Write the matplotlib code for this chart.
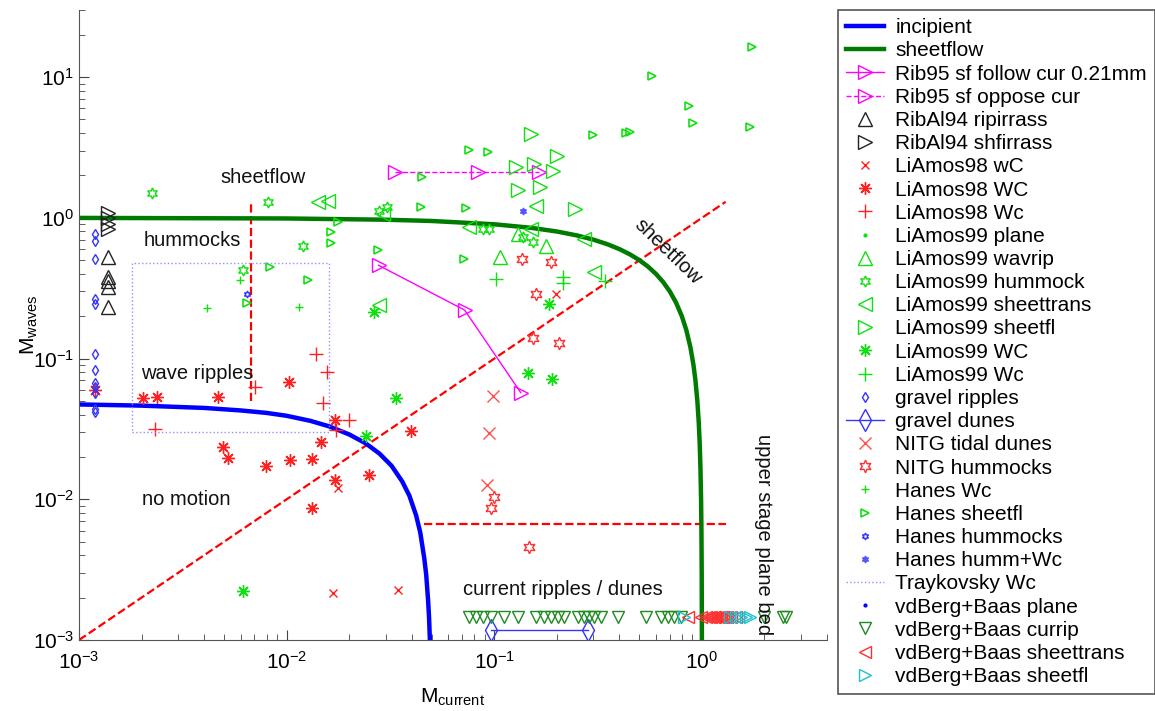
import matplotlib
matplotlib.use('Agg')
import matplotlib.pyplot as plt

plt.rcParams['font.family'] = ['Liberation Sans', 'DejaVu Sans']
plt.rcParams['mathtext.default'] = 'regular'

# boundary curves
incip_x = [0.001, 0.002, 0.004, 0.006, 0.008, 0.01, 0.013, 0.016, 0.02, 0.024, 0.028, 0.032,
           0.036, 0.039, 0.042, 0.044, 0.046, 0.047, 0.048, 0.0485, 0.049]
incip_y = [0.0472, 0.0463, 0.0446, 0.0428, 0.0411, 0.0392, 0.0361, 0.0330, 0.0289, 0.0250,
           0.0211, 0.0173, 0.0134, 0.0106, 0.0077, 0.0058, 0.0038, 0.0029, 0.0019, 0.00144, 0.00096]
sheet_x = [0.001, 0.01, 0.03, 0.05, 0.1, 0.15, 0.2, 0.25, 0.3, 0.35, 0.4, 0.45, 0.5, 0.55, 0.6,
           0.65, 0.7, 0.75, 0.8, 0.84, 0.88, 0.91, 0.93, 0.95, 0.965, 0.975, 0.983, 0.99, 0.994,
           0.997, 0.999]
sheet_y = [0.999, 0.99, 0.97, 0.95, 0.9, 0.85, 0.8, 0.75, 0.7, 0.65, 0.6, 0.55, 0.5, 0.45, 0.4,
           0.35, 0.3, 0.25, 0.2, 0.16, 0.12, 0.09, 0.07, 0.05, 0.035, 0.025, 0.017, 0.01, 0.006,
           0.003, 0.001]

# data sets
rib95f_x = [0.0277, 0.072, 0.134]
rib95f_y = [0.46, 0.221, 0.0573]
rib95o_x = [0.0334, 0.083, 0.164]
rib95o_y = [2.11, 2.11, 2.11]
ribrip_x = [0.00138, 0.00138, 0.00138, 0.00138, 0.00138]
ribrip_y = [0.524, 0.383, 0.353, 0.320, 0.231]
ribsh_x = [0.00138, 0.00138, 0.00138, 0.00138]
ribsh_y = [1.09, 0.99, 0.90, 0.84]
la98wC_x = [0.198, 0.0176, 0.0168, 0.0342]
la98wC_y = [0.286, 0.0121, 0.00216, 0.00227]
la98WC_x = [0.00204, 0.00238, 0.00469, 0.0103, 0.00496, 0.00524, 0.00798, 0.0104, 0.0133,
            0.0147, 0.0170, 0.0170, 0.0248, 0.0133, 0.0395, 0.0012]
la98WC_y = [0.0528, 0.0537, 0.0537, 0.0686, 0.0236, 0.0197, 0.0173, 0.0191, 0.0194,
            0.0257, 0.0368, 0.0138, 0.0149, 0.00871, 0.0308, 0.06]
la98Wc_x = [0.0139, 0.0157, 0.00706, 0.0150, 0.00233, 0.0199, 0.0172]
la98Wc_y = [0.107, 0.0807, 0.0632, 0.0486, 0.0318, 0.0368, 0.0313]
la99wav_x = [0.130, 0.177, 0.107]
la99wav_y = [0.764, 0.627, 0.524]
la99hum_x = [0.00225, 0.00816, 0.0120, 0.0277, 0.0303, 0.00618, 0.0879, 0.0939, 0.137, 0.153]
la99hum_y = [1.49, 1.29, 0.627, 1.11, 1.19, 0.423, 0.828, 0.828, 0.727, 0.670]
la99tr_x = [0.0141, 0.0159, 0.0290, 0.0277, 0.0752, 0.158, 0.150, 0.270, 0.302]
la99tr_y = [1.29, 1.31, 1.06, 0.242, 0.855, 1.21, 0.828, 0.703, 0.409]
la99sf_x = [0.150, 0.127, 0.155, 0.200, 0.191, 0.130, 0.166, 0.244]
la99sf_y = [3.93, 2.29, 2.40, 2.74, 2.14, 1.57, 1.67, 1.15]
la99WC_x = [0.0262, 0.0338, 0.0242, 0.00618, 0.145, 0.189, 0.183]
la99WC_y = [0.213, 0.0528, 0.0283, 0.00223, 0.0795, 0.0721, 0.246]
la99Wc_x = [0.1016, 0.214, 0.214, 0.341]
la99Wc_y = [0.365, 0.383, 0.342, 0.353]
grrip_x = [0.00119] * 12
grrip_y = [0.764, 0.680, 0.507, 0.263, 0.246, 0.107, 0.0835, 0.0675, 0.0632, 0.0573, 0.0441, 0.0420]
grdune_x = [0.096, 0.283]
grdune_y = [0.00118, 0.00118]
nitgdun_x = [0.0982, 0.0939, 0.0918]
nitgdun_y = [0.0546, 0.0297, 0.0127]
nitghum_x = [0.136, 0.187, 0.158, 0.153, 0.205, 0.0993, 0.0961, 0.147]
nitghum_y = [0.507, 0.482, 0.286, 0.139, 0.130, 0.0104, 0.00871, 0.00459]
hanWc_x = [0.00414, 0.0115, 0.00598]
hanWc_y = [0.227, 0.231, 0.359]
hansf_x = [0.0752, 0.0929, 0.0447, 0.0442, 0.0728, 0.298, 0.43, 0.45, 0.574, 0.867, 0.906,
           1.75, 1.71, 0.0176, 0.0163, 0.0163, 0.0274, 0.00834, 0.0126, 0.00646, 0.0711]
hansf_y = [3.02, 2.92, 1.94, 1.19, 1.17, 3.86, 4.0, 4.1, 10.2, 6.22, 4.71,
           16.4, 4.41, 0.929, 0.789, 0.659, 0.587, 0.445, 0.359, 0.25, 0.507]
hanhum_x = [0.00646]
hanhum_y = [0.290]
hanhw_x = [0.137]
hanhw_y = [1.11]
tray_x = [0.0018, 0.016, 0.016, 0.0018, 0.0018]
tray_y = [0.03, 0.03, 0.48, 0.48, 0.03]
vdcur_x = [0.0752, 0.0813, 0.0879, 0.0961, 0.111, 0.130, 0.158, 0.173, 0.187, 0.202, 0.216,
           0.252, 0.270, 0.285, 0.302, 0.326, 0.394, 0.537, 0.635, 0.686, 0.733, 0.792,
           2.00, 2.45, 2.55]
vdcur_y = [0.00146] * 25
vdtr_x = [0.857, 0.991, 1.05, 1.08, 1.11, 1.14, 1.16, 1.19, 1.21, 1.24, 1.26, 1.29, 1.32, 1.38, 1.46]
vdtr_y = [0.00146] * 15
vdsf_x = [0.82, 1.36, 1.46, 1.54, 1.63, 1.71]
vdsf_y = [0.00146] * 6

green = '#10e010'
fig = plt.figure(figsize=(11.55, 7.11), dpi=100)
ax = fig.add_axes([79 / 1155, 71 / 711, 748 / 1155, 630 / 711])
ax.set_xscale('log')
ax.set_yscale('log')

# regime boundaries
ax.plot([0.001, 1.3], [0.001, 1.3], '--', color='red', lw=1.6)
ax.plot([0.0067, 0.0067], [0.05, 1.3], '--', color='red', lw=1.6)
ax.plot([0.046, 1.3], [0.0067, 0.0067], '--', color='red', lw=1.6)

ax.plot(incip_x, incip_y, color='#0000ff', lw=3.2, label='incipient')
ax.plot(sheet_x, sheet_y, color='#007a00', lw=3.2, label='sheetflow')
ax.plot(rib95f_x, rib95f_y, '-', color='#ff00ff', lw=1, marker='>', ms=10, mfc='none',
        label='Rib95 sf follow cur 0.21mm')
ax.plot(rib95o_x, rib95o_y, '--', color='#ff00ff', lw=1, marker='>', ms=10, mfc='none',
        label='Rib95 sf oppose cur')
ax.plot(ribrip_x, ribrip_y, ls='none', marker='^', ms=10, mfc='none', color='#222222',
        label='RibAl94 ripirrass')
ax.plot(ribsh_x, ribsh_y, ls='none', marker='>', ms=10, mfc='none', color='#222222',
        label='RibAl94 shfirrass')
ax.plot(la98wC_x, la98wC_y, ls='none', marker='x', ms=6, color='#ff2020', label='LiAmos98 wC')
ax.plot(la98WC_x, la98WC_y, ls='none', marker=(8, 2, 0), ms=9, color='#ff2020', mew=1,
        label='LiAmos98 WC')
ax.plot(la98Wc_x, la98Wc_y, ls='none', marker='+', ms=10, color='#ff2020', mew=1,
        label='LiAmos98 Wc')
ax.plot([], [], ls='none', marker='.', ms=4, color=green, label='LiAmos99 plane')
ax.plot(la99wav_x, la99wav_y, ls='none', marker='^', ms=10, mfc='none', color=green,
        label='LiAmos99 wavrip')
ax.plot(la99hum_x, la99hum_y, ls='none', marker=(6, 1, 0), ms=8, mfc='none', color=green,
        label='LiAmos99 hummock')
ax.plot(la99tr_x, la99tr_y, ls='none', marker='<', ms=10, mfc='none', color=green,
        label='LiAmos99 sheettrans')
ax.plot(la99sf_x, la99sf_y, ls='none', marker='>', ms=10, mfc='none', color=green,
        label='LiAmos99 sheetfl')
ax.plot(la99WC_x, la99WC_y, ls='none', marker=(8, 2, 0), ms=9, color=green, label='LiAmos99 WC')
ax.plot(la99Wc_x, la99Wc_y, ls='none', marker='+', ms=10, color=green, label='LiAmos99 Wc')
ax.plot(grrip_x, grrip_y, ls='none', marker='d', ms=5, mfc='none', color='#3333ff',
        label='gravel ripples')
ax.plot(grdune_x, grdune_y, '-', color='#3333ff', lw=1, marker='d', ms=11, mfc='none',
        label='gravel dunes')
ax.plot(nitgdun_x, nitgdun_y, ls='none', marker='x', ms=8, color='#ff5050', label='NITG tidal dunes')
ax.plot(nitghum_x, nitghum_y, ls='none', marker=(6, 1, 0), ms=9, mfc='none', color='#ff3030',
        label='NITG hummocks')
ax.plot(hanWc_x, hanWc_y, ls='none', marker='+', ms=6, color=green, label='Hanes Wc')
ax.plot(hansf_x, hansf_y, ls='none', marker='>', ms=6, mfc='none', color=green, mew=1.2,
        label='Hanes sheetfl')
ax.plot(hanhum_x, hanhum_y, ls='none', marker=(6, 1, 0), ms=5, mfc='none', color='#3333ff',
        label='Hanes hummocks')
ax.plot(hanhw_x, hanhw_y, ls='none', marker=(6, 1, 0), ms=5, color='#5555ff',
        label='Hanes humm+Wc')
ax.plot(tray_x, tray_y, ':', color='#9090ff', lw=1, label='Traykovsky Wc')
ax.plot([], [], ls='none', marker='.', ms=4, color='#0000ff', label='vdBerg+Baas plane')
ax.plot(vdcur_x, vdcur_y, ls='none', marker='v', ms=9, mfc='none', color='#1f8a1f',
        label='vdBerg+Baas currip')
ax.plot(vdtr_x, vdtr_y, ls='none', marker='<', ms=9, mfc='none', color='#ff3030',
        label='vdBerg+Baas sheettrans')
ax.plot(vdsf_x, vdsf_y, ls='none', marker='>', ms=9, mfc='none', color='#20c0d0',
        label='vdBerg+Baas sheetfl')

# region labels
tk = dict(fontsize=14.5, color='#111111', ha='center', va='center')
ax.text(0.0077, 1.94, 'sheetflow', **tk)
ax.text(0.0035, 0.69, 'hummocks', **tk)
ax.text(0.0037, 0.078, 'wave ripples', **tk)
ax.text(0.0033, 0.0099, 'no motion', **tk)
ax.text(0.214, 0.00227, 'current ripples / dunes', **tk)
ax.text(0.686, 0.578, 'sheetflow', rotation=-44, **tk)
ax.text(1.97, 0.0056, 'upper stage plane bed', rotation=-90, **tk)

ax.set_xlim(0.001, 4)
ax.set_ylim(0.001, 30)
ax.set_xlabel('M$_{current}$', fontsize=15, labelpad=10)
ax.set_ylabel('M$_{waves}$', fontsize=15)
ax.yaxis.set_label_coords(-0.052, 0.5)
ax.tick_params(which='both', direction='in', labelsize=15, color='#444444')
ax.tick_params(which='major', length=7)
ax.tick_params(which='minor', length=4)
ax.tick_params(axis='x', pad=8)
for s in ['top', 'right']:
    ax.spines[s].set_visible(False)
for s in ['left', 'bottom']:
    ax.spines[s].set_color('#555555')

leg = fig.legend(loc='upper left', bbox_to_anchor=(838 / 1155, 701 / 711), fontsize=15,
                 frameon=True, fancybox=False, edgecolor='#555555', framealpha=1,
                 handlelength=1.8, handletextpad=0.55, labelspacing=0.2, borderpad=0.4,
                 borderaxespad=0)
leg.get_frame().set_linewidth(1.2)

fig.savefig('out.png', dpi=100)
